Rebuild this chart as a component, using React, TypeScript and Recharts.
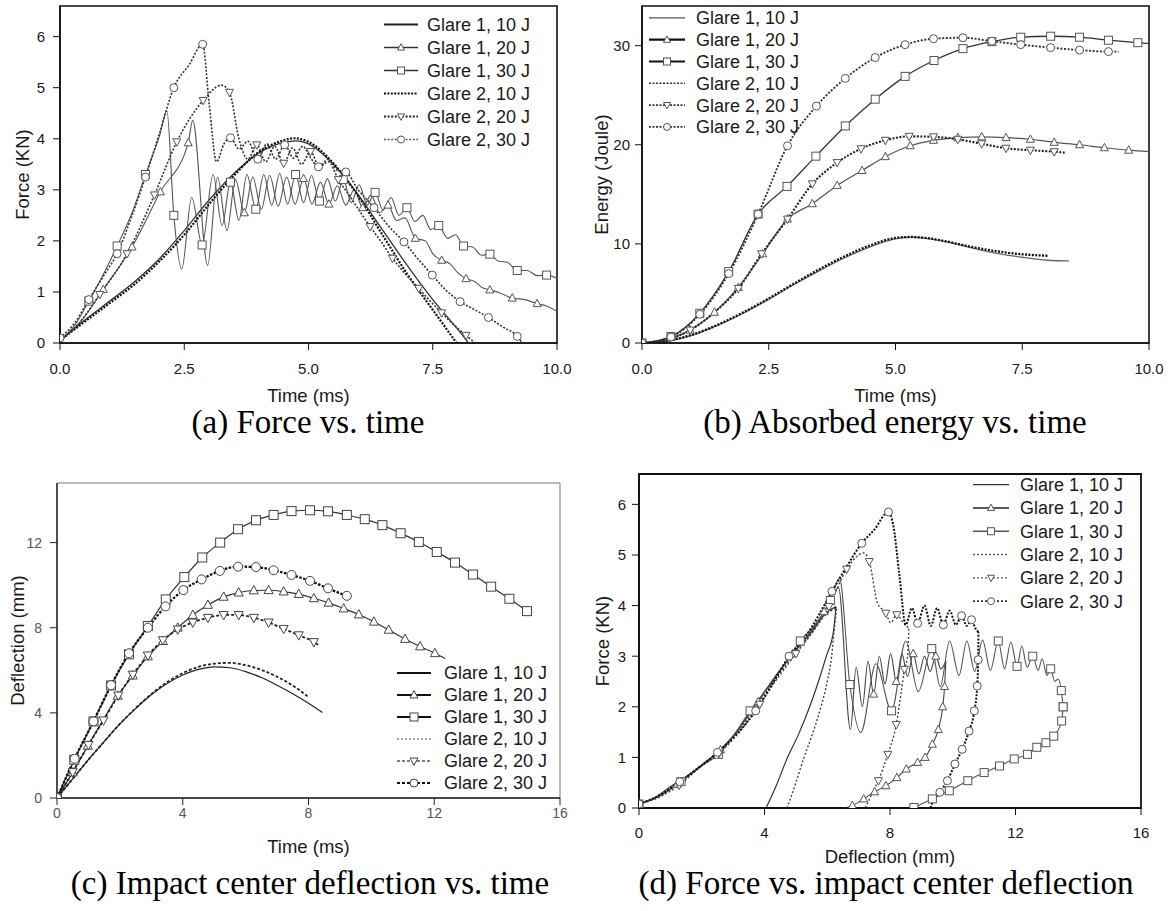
import React from "react";
import { LineChart, Line, XAxis, YAxis, ReferenceArea, Legend } from "recharts";

type Pt = number[]; // [x, y, marker?]
type Marker = "none" | "up" | "down" | "square" | "circle";

const FONT = "'Liberation Sans', Arial, sans-serif";
const SERIF = "'Liberation Serif', 'Times New Roman', serif";

const SERIES_NAMES = ["Glare 1, 10 J", "Glare 1, 20 J", "Glare 1, 30 J", "Glare 2, 10 J", "Glare 2, 20 J", "Glare 2, 30 J"];
const SERIES_MARKERS: Marker[] = ["none", "up", "square", "none", "down", "circle"];

const TIME_TICKS_AB = [0, 2.5, 5, 7.5, 10];
const FORCE_TICKS = [0, 1, 2, 3, 4, 5, 6];
const ENERGY_TICKS = [0, 10, 20, 30];
const TIME_TICKS_C = [0, 4, 8, 12, 16];
const DEFL_TICKS_Y = [0, 4, 8, 12];
const DEFL_TICKS_X = [0, 4, 8, 12, 16];

// (a) force (kN) vs time (ms)
const A_G1_10: Pt[] = [[0, 0.05], [0.5, 0.45], [1, 0.82], [1.5, 1.2], [2, 1.65], [2.5, 2.2], [3, 2.8], [3.5, 3.32], [4, 3.72], [4.5, 3.93], [4.75, 3.96], [5, 3.9], [5.5, 3.5], [6, 2.9], [6.5, 2.2], [7, 1.5], [7.5, 0.85], [8, 0.27], [8.22, 0]];
const A_G1_20: Pt[] = [[0, 0.05], [0.4, 0.4], [0.87, 1.05, 1], [1.45, 1.88, 1], [2.02, 2.96, 1], [2.58, 3.92, 1], [2.67, 4.36], [2.97, 1.52], [3.17, 3.25], [3.36, 2.2], [3.53, 3.2], [3.71, 2.55, 1], [3.88, 3.25], [4.05, 2.62], [4.22, 3.28], [4.39, 2.68], [4.56, 3.25], [4.73, 2.72], [4.9, 3.22, 1], [5.07, 2.72], [5.24, 3.15], [5.41, 2.72, 1], [5.58, 3.08], [5.75, 2.7], [5.92, 3.0], [6.09, 2.65, 1], [6.26, 2.9], [6.43, 2.55], [6.6, 2.7, 1], [6.77, 2.4], [6.94, 2.45], [7.15, 2.05, 1], [7.35, 2.0], [7.5, 1.75], [7.68, 1.62, 1], [7.85, 1.55], [8.0, 1.38], [8.17, 1.26, 1], [8.35, 1.2], [8.5, 1.08], [8.65, 1.04, 1], [8.85, 0.98], [9.1, 0.88, 1], [9.35, 0.85], [9.6, 0.77, 1], [9.8, 0.72], [10, 0.62]];
const A_G1_30: Pt[] = [[0, 0.05], [0.3, 0.35], [0.58, 0.82, 1], [0.85, 1.3], [1.15, 1.9, 1], [1.45, 2.55], [1.72, 3.3, 1], [2.0, 4.05], [2.15, 4.55], [2.29, 2.5, 1], [2.45, 1.45], [2.65, 2.85], [2.86, 1.92, 1], [3.08, 3.3], [3.26, 2.3], [3.43, 3.15, 1], [3.6, 2.4], [3.76, 3.3], [3.94, 2.62, 1], [4.1, 3.3], [4.26, 2.7], [4.42, 3.32], [4.58, 2.72], [4.74, 3.3, 1], [4.9, 2.75], [5.06, 3.28], [5.22, 2.78, 1], [5.38, 3.22], [5.54, 2.78], [5.7, 3.2, 1], [5.86, 2.75], [6.02, 3.1], [6.18, 2.7], [6.34, 2.95, 1], [6.5, 2.6], [6.66, 2.85], [6.82, 2.5], [6.98, 2.65, 1], [7.14, 2.38], [7.3, 2.5], [7.46, 2.22], [7.62, 2.3, 1], [7.8, 2.05], [7.96, 2.12], [8.12, 1.9, 1], [8.3, 1.88], [8.48, 1.72], [8.65, 1.74, 1], [8.82, 1.6], [9.0, 1.58], [9.2, 1.42, 1], [9.4, 1.42], [9.6, 1.32], [9.79, 1.33, 1], [10, 1.27]];
const A_G2_10: Pt[] = [[0, 0.05], [0.5, 0.42], [1, 0.78], [1.5, 1.15], [2, 1.6], [2.5, 2.12], [3, 2.72], [3.5, 3.28], [4, 3.74], [4.5, 3.97], [4.7, 4.01], [5, 3.94], [5.5, 3.52], [6, 2.88], [6.5, 2.1], [7, 1.33], [7.5, 0.65], [7.98, 0]];
const A_G2_20: Pt[] = [[0, 0.05], [0.35, 0.35], [0.8, 0.95, 1], [1.35, 1.75, 1], [1.9, 2.9, 1], [2.35, 3.94, 1], [2.88, 4.75, 1], [3.25, 5.05], [3.41, 4.91, 1], [3.6, 4.0], [3.78, 3.6], [3.96, 3.88, 1], [4.14, 3.55], [4.32, 3.85], [4.5, 3.52, 1], [4.68, 3.82], [4.86, 3.5], [5.04, 3.75, 1], [5.22, 3.45], [5.4, 3.55], [5.6, 3.2, 1], [5.85, 2.85], [6.05, 2.55], [6.24, 2.28, 1], [6.45, 2.0], [6.69, 1.66, 1], [6.95, 1.35], [7.22, 1.07, 1], [7.45, 0.82], [7.68, 0.59, 1], [7.92, 0.36], [8.17, 0.15, 1], [8.35, 0]];
const A_G2_30: Pt[] = [[0, 0.1, 1], [0.3, 0.4], [0.58, 0.85, 1], [0.9, 1.35], [1.15, 1.75, 1], [1.45, 2.5], [1.72, 3.25, 1], [2.0, 4.1], [2.29, 5.0, 1], [2.6, 5.45], [2.87, 5.85, 1], [3.0, 4.7], [3.15, 3.55], [3.3, 3.9], [3.43, 4.02, 1], [3.6, 3.8], [3.78, 3.95], [3.98, 3.6, 1], [4.16, 3.9], [4.34, 3.6], [4.52, 3.88, 1], [4.7, 3.62], [4.88, 3.85], [5.06, 3.6], [5.2, 3.45, 1], [5.4, 3.6], [5.58, 3.38], [5.75, 3.35, 1], [6.0, 3.0], [6.32, 2.65, 1], [6.6, 2.3], [6.92, 1.98, 1], [7.2, 1.65], [7.49, 1.33, 1], [7.75, 1.05], [8.05, 0.81, 1], [8.35, 0.65], [8.62, 0.5, 1], [8.9, 0.32], [9.2, 0.13, 1], [9.3, 0]];

// (b) absorbed energy (J) vs time (ms)
const B_G1_10: Pt[] = [[0, 0], [0.5, 0.2], [1, 0.8], [1.5, 1.8], [2, 3.0], [2.5, 4.4], [3, 5.9], [3.5, 7.3], [4, 8.6], [4.5, 9.7], [5, 10.5], [5.3, 10.65], [5.6, 10.55], [6, 10.2], [6.5, 9.6], [7, 9.05], [7.5, 8.65], [8, 8.35], [8.42, 8.28]];
const B_G1_20: Pt[] = [[0, 0, 1], [0.5, 0.35], [0.95, 1.3, 1], [1.43, 3.1, 1], [1.9, 5.6, 1], [2.38, 9.0, 1], [2.87, 12.5, 1], [3.36, 14.05, 1], [3.85, 15.9, 1], [4.34, 17.4, 1], [4.8, 18.8, 1], [5.29, 19.9, 1], [5.75, 20.45, 1], [6.23, 20.7, 1], [6.7, 20.8, 1], [7.18, 20.72, 1], [7.66, 20.55, 1], [8.13, 20.25, 1], [8.63, 20.0, 1], [9.12, 19.7, 1], [9.6, 19.45, 1], [10, 19.3]];
const B_G1_30: Pt[] = [[0, 0, 1], [0.57, 0.65, 1], [1.14, 3.0, 1], [1.71, 7.2, 1], [2.29, 13.0, 1], [2.86, 15.8, 1], [3.43, 18.85, 1], [4.01, 21.9, 1], [4.6, 24.6, 1], [5.19, 26.9, 1], [5.76, 28.5, 1], [6.33, 29.7, 1], [6.9, 30.4, 1], [7.47, 30.85, 1], [8.06, 30.95, 1], [8.63, 30.85, 1], [9.2, 30.55, 1], [9.78, 30.3, 1], [10, 30.2]];
const B_G2_10: Pt[] = [[0, 0], [0.5, 0.22], [1, 0.85], [1.5, 1.85], [2, 3.1], [2.5, 4.5], [3, 6.0], [3.5, 7.45], [4, 8.75], [4.5, 9.85], [5, 10.6], [5.3, 10.7], [5.6, 10.6], [6, 10.25], [6.5, 9.7], [7, 9.25], [7.5, 8.95], [8.02, 8.8]];
const B_G2_20: Pt[] = [[0, 0], [0.5, 0.35], [0.95, 1.3, 1], [1.43, 3.1], [1.9, 5.5, 1], [2.36, 9.0, 1], [2.87, 12.5, 1], [3.36, 16.05, 1], [3.85, 18.2, 1], [4.32, 19.6, 1], [4.8, 20.45, 1], [5.27, 20.85, 1], [5.75, 20.8, 1], [6.23, 20.55, 1], [6.7, 20.1, 1], [7.18, 19.65, 1], [7.66, 19.45, 1], [8.13, 19.3, 1], [8.35, 19.2]];
const B_G2_30: Pt[] = [[0, 0, 1], [0.57, 0.6, 1], [1.14, 2.9, 1], [1.71, 7.0, 1], [2.29, 13.0, 1], [2.87, 19.9, 1], [3.44, 23.9, 1], [4.01, 26.7, 1], [4.6, 28.8, 1], [5.19, 30.1, 1], [5.75, 30.7, 1], [6.33, 30.8, 1], [6.9, 30.45, 1], [7.47, 30.1, 1], [8.06, 29.8, 1], [8.63, 29.55, 1], [9.2, 29.4, 1], [9.4, 29.4]];

// (c) impact centre deflection (mm) vs time (ms)
const C_G1_10: Pt[] = [[0, 0], [0.5, 0.9], [1, 1.8], [1.5, 2.65], [2, 3.48], [2.5, 4.2], [3, 4.85], [3.5, 5.38], [4, 5.78], [4.5, 6.04], [5, 6.16], [5.5, 6.12], [6, 5.94], [6.5, 5.66], [7, 5.3], [7.5, 4.9], [8, 4.45], [8.44, 4.02]];
const C_G1_20: Pt[] = [[0, 0, 1], [0.5, 1.2, 1], [0.98, 2.45, 1], [1.45, 3.62], [1.93, 4.8, 1], [2.41, 5.75, 1], [2.89, 6.65, 1], [3.37, 7.37, 1], [3.84, 8.0, 1], [4.32, 8.6, 1], [4.8, 9.07, 1], [5.3, 9.45, 1], [5.78, 9.65, 1], [6.26, 9.75, 1], [6.73, 9.76, 1], [7.21, 9.7, 1], [7.69, 9.58, 1], [8.17, 9.38, 1], [8.64, 9.17, 1], [9.12, 8.9, 1], [9.6, 8.62, 1], [10.08, 8.28, 1], [10.55, 7.9, 1], [11.07, 7.47, 1], [11.55, 7.12, 1], [12.02, 6.8, 1], [12.35, 6.55]];
const C_G1_30: Pt[] = [[0, 0, 1], [0.55, 1.8, 1], [1.16, 3.6, 1], [1.72, 5.29, 1], [2.29, 6.75, 1], [2.89, 8.08, 1], [3.46, 9.33, 1], [4.05, 10.38, 1], [4.62, 11.3, 1], [5.19, 12.0, 1], [5.76, 12.63, 1], [6.33, 13.05, 1], [6.89, 13.3, 1], [7.46, 13.48, 1], [8.05, 13.52, 1], [8.62, 13.47, 1], [9.22, 13.3, 1], [9.79, 13.1, 1], [10.35, 12.82, 1], [10.93, 12.44, 1], [11.51, 12.03, 1], [12.08, 11.56, 1], [12.66, 11.06, 1], [13.23, 10.5, 1], [13.81, 9.93, 1], [14.39, 9.36, 1], [14.95, 8.78, 1]];
const C_G2_10: Pt[] = [[0, 0], [0.5, 0.9], [1, 1.8], [1.5, 2.65], [2, 3.48], [2.5, 4.22], [3, 4.88], [3.5, 5.44], [4, 5.87], [4.5, 6.16], [5, 6.31], [5.5, 6.35], [6, 6.24], [6.5, 6.02], [7, 5.7], [7.5, 5.28], [8.02, 4.72]];
const C_G2_20: Pt[] = [[0, 0, 1], [0.5, 1.22, 1], [1.0, 2.5, 1], [1.48, 3.65, 1], [1.95, 4.82, 1], [2.41, 5.8, 1], [2.89, 6.7, 1], [3.37, 7.42, 1], [3.84, 7.92, 1], [4.32, 8.25, 1], [4.8, 8.47, 1], [5.3, 8.6, 1], [5.78, 8.6, 1], [6.26, 8.47, 1], [6.73, 8.25, 1], [7.21, 7.95, 1], [7.69, 7.65, 1], [8.17, 7.33, 1], [8.36, 7.14]];
const C_G2_30: Pt[] = [[0, 0, 1], [0.56, 1.84, 1], [1.16, 3.6, 1], [1.72, 5.3, 1], [2.29, 6.8, 1], [2.89, 8.0, 1], [3.45, 9.0, 1], [4.02, 9.77, 1], [4.6, 10.27, 1], [5.18, 10.67, 1], [5.76, 10.87, 1], [6.33, 10.85, 1], [6.89, 10.7, 1], [7.46, 10.48, 1], [8.05, 10.2, 1], [8.62, 9.85, 1], [9.22, 9.5, 1], [9.34, 9.44]];

// (d) force (kN) vs impact centre deflection (mm)
const D_G1_10: Pt[] = [[0, 0.08], [0.5, 0.2], [1, 0.42], [1.5, 0.62], [2, 0.85], [2.5, 1.1], [3, 1.42], [3.5, 1.85], [4, 2.3], [4.5, 2.72], [5, 3.12], [5.5, 3.48], [5.95, 3.85], [6.28, 3.98], [6.2, 3.5], [5.97, 3.0], [5.72, 2.5], [5.44, 2.0], [5.08, 1.45], [4.7, 0.95], [4.38, 0.45], [4.05, 0]];
const D_G1_20: Pt[] = [[0, 0.08, 1], [0.6, 0.22], [1.22, 0.47, 1], [1.9, 0.8], [2.6, 1.15, 1], [3.2, 1.58], [3.8, 2.1, 1], [4.4, 2.65], [4.9, 3.05, 1], [5.4, 3.42], [5.9, 3.88, 1], [6.36, 4.35], [6.74, 1.55], [6.92, 2.78], [7.12, 2.0], [7.3, 2.9], [7.48, 2.25, 1], [7.66, 3.0], [7.84, 2.45], [8.02, 3.05], [8.2, 2.5, 1], [8.38, 3.05], [8.56, 2.6], [8.74, 3.05, 1], [8.92, 2.65], [9.1, 3.0], [9.28, 2.7], [9.46, 3.0, 1], [9.62, 2.75], [9.78, 2.9], [9.74, 2.4, 1], [9.68, 2.0, 1], [9.54, 1.55, 1], [9.35, 1.26, 1], [9.12, 1.0, 1], [8.88, 0.9, 1], [8.52, 0.77, 1], [8.22, 0.6, 1], [7.87, 0.44, 1], [7.51, 0.32, 1], [7.16, 0.18, 1], [6.8, 0.05, 1], [6.56, 0]];
const D_G1_30: Pt[] = [[0, 0.08, 1], [0.7, 0.25], [1.34, 0.52, 1], [1.9, 0.8], [2.53, 1.06, 1], [3.0, 1.42], [3.54, 1.92, 1], [4.2, 2.45], [4.6, 2.8], [5.14, 3.3, 1], [5.6, 3.62], [6.1, 4.1, 1], [6.39, 4.54], [6.72, 2.44, 1], [7.07, 1.49], [7.55, 2.85], [8.05, 1.92, 1], [8.5, 3.3], [8.9, 2.3], [9.33, 3.15, 1], [9.6, 2.4], [9.9, 3.3], [10.2, 2.62], [10.45, 3.3], [10.7, 2.7], [10.95, 3.32], [11.2, 2.72], [11.45, 3.3, 1], [11.65, 2.75], [11.85, 3.28], [12.05, 2.8, 1], [12.2, 3.2], [12.37, 2.78], [12.55, 3.0, 1], [12.72, 2.72], [12.85, 2.95], [13.0, 2.62], [13.12, 2.75, 1], [13.25, 2.5], [13.36, 2.55], [13.46, 2.32, 1], [13.52, 2.0, 1], [13.47, 1.72, 1], [13.32, 1.5], [13.22, 1.42, 1], [12.97, 1.29, 1], [12.68, 1.2, 1], [12.38, 1.06, 1], [11.96, 0.97, 1], [11.49, 0.83, 1], [11.0, 0.7, 1], [10.48, 0.54, 1], [9.89, 0.34, 1], [9.35, 0.18, 1], [8.76, 0.01, 1]];
const D_G2_10: Pt[] = [[0, 0.08], [0.5, 0.2], [1, 0.4], [1.5, 0.6], [2, 0.83], [2.5, 1.08], [3, 1.4], [3.5, 1.8], [4, 2.25], [4.5, 2.68], [5, 3.08], [5.5, 3.45], [5.95, 3.82], [6.3, 3.95], [6.22, 3.5], [6.14, 3.0], [6.0, 2.5], [5.8, 2.0], [5.55, 1.5], [5.26, 1.0], [5.0, 0.5], [4.72, 0]];
const D_G2_20: Pt[] = [[0, 0.08], [0.6, 0.2], [1.28, 0.45, 1], [1.9, 0.78], [2.55, 1.08, 1], [3.2, 1.5], [3.85, 2.05, 1], [4.4, 2.55], [5.0, 3.05, 1], [5.5, 3.45], [6.05, 3.98, 1], [6.62, 4.72, 1], [7.16, 5.04], [7.34, 4.87, 1], [7.6, 4.05], [7.87, 3.85, 1], [8.02, 3.66], [8.22, 3.82, 1], [8.4, 3.68], [8.6, 3.55], [8.56, 3.0], [8.46, 2.74, 1], [8.36, 2.3], [8.2, 1.65, 1], [7.93, 1.06, 1], [7.63, 0.54, 1], [7.4, 0.25], [7.22, 0]];
const D_G2_30: Pt[] = [[0, 0.08, 1], [0.65, 0.25], [1.3, 0.52, 1], [1.95, 0.82], [2.5, 1.1, 1], [3.1, 1.45], [3.72, 1.92, 1], [4.3, 2.5], [4.78, 3.0, 1], [5.3, 3.38], [5.7, 3.78], [6.15, 4.28, 1], [6.6, 4.75], [7.1, 5.23, 1], [7.5, 5.5], [7.95, 5.85, 1], [8.1, 5.6], [8.3, 4.6], [8.5, 3.62], [8.7, 3.95], [8.88, 3.65, 1], [9.1, 4.0], [9.3, 3.6], [9.5, 3.95], [9.7, 3.62, 1], [9.9, 3.9], [10.1, 3.62], [10.28, 3.8, 1], [10.45, 3.6], [10.6, 3.72, 1], [10.72, 3.55], [10.82, 3.48], [10.81, 2.93, 1], [10.78, 2.41, 1], [10.69, 1.92, 1], [10.52, 1.52, 1], [10.3, 1.16, 1], [10.07, 0.87, 1], [9.83, 0.54, 1], [9.59, 0.31, 1], [9.35, 0.11], [9.29, 0]];

interface Style { stroke: string; width: number; dash?: string }

interface PanelDef {
  left: number; top: number; width: number; height: number;
  margin: { top: number; right: number; bottom: number; left: number };
  yAxisWidth: number; xAxisHeight: number;
  xDomain: [number, number]; xTicks: number[]; xFmt: (v: number) => string;
  yDomain: [number, number]; yTicks: number[];
  xTitle: string; yTitle: string; xTitleOffset: number; yTitleOffset: number;
  xTickMargin: number; yTickMargin: number;
  tickColor: string; tickFont: number; axis: string; axisW: number;
  frame: string; frameW: number;
  data: Pt[][]; lines: Style[]; legend: Style[]; markSize: number; markStroke: string;
  legendLeft: number; legendTop: number; legendRow: number; legendLine: number; legendGap: number;
  caption: string; captionX: number; captionTop: number;
}

function splitRuns(pts: Pt[]): Pt[][] {
  const runs: Pt[][] = [];
  let cur: Pt[] = [pts[0]];
  let dir = 0;
  for (let i = 1; i < pts.length; i++) {
    const d = Math.sign(pts[i][0] - pts[i - 1][0]);
    if (dir !== 0 && d !== dir) {
      runs.push(cur);
      cur = [pts[i - 1]];
    }
    dir = d;
    cur.push(pts[i]);
  }
  runs.push(cur);
  // keep every run increasing in x so the monotone curve behaves
  return runs.map((r) => (r.length > 1 && r[r.length - 1][0] < r[0][0] ? [...r].reverse() : r));
}

function Glyph({ kind, cx, cy, s, stroke }: { kind: Marker; cx: number; cy: number; s: number; stroke: string }) {
  const h = s / 2;
  const st = { fill: "#fff", stroke, strokeWidth: 1 };
  if (kind === "square") return <rect x={cx - h} y={cy - h} width={s} height={s} {...st} />;
  if (kind === "circle") return <circle cx={cx} cy={cy} r={h} {...st} />;
  if (kind === "up") return <polygon points={`${cx},${cy - h * 1.1} ${cx - h},${cy + h * 0.75} ${cx + h},${cy + h * 0.75}`} {...st} />;
  if (kind === "down") return <polygon points={`${cx},${cy + h * 1.1} ${cx - h},${cy - h * 0.75} ${cx + h},${cy - h * 0.75}`} {...st} />;
  return null;
}

const makeDot = (kind: Marker, s: number, stroke: string) => (props: any) => {
  const { cx, cy, payload, index } = props;
  if (kind === "none" || !payload || !payload.m || cx == null || cy == null) return <g key={`n${index}`} />;
  return (
    <g key={`m${index}`}>
      <Glyph kind={kind} cx={cx} cy={cy} s={s} stroke={stroke} />
    </g>
  );
};

function LegendBox({ def }: { def: PanelDef }) {
  const w = def.legendLine + def.legendGap + 130;
  const rh = def.legendRow;
  return (
    <svg width={w} height={rh * 6} style={{ overflow: "visible", display: "block" }}>
      {def.legend.map((st, i) => {
        const y = rh * i + rh / 2;
        return (
          <g key={i}>
            <line x1={0} x2={def.legendLine} y1={y} y2={y} stroke={st.stroke} strokeWidth={st.width} strokeDasharray={st.dash} />
            <Glyph kind={SERIES_MARKERS[i]} cx={def.legendLine / 2} cy={y} s={def.markSize - 1} stroke={def.markStroke} />
            <text x={def.legendLine + def.legendGap} y={y} dy="0.36em" fontSize={18} fontFamily={FONT} fill="#1a1a1a">
              {SERIES_NAMES[i]}
            </text>
          </g>
        );
      })}
    </svg>
  );
}

function Panel({ def }: { def: PanelDef }) {
  const runs = def.data.flatMap((pts, si) =>
    splitRuns(pts).map((run, ri) => ({
      si,
      ri,
      data: run.map((p) => ({ x: p[0], y: p[1], m: p[2] ? 1 : 0 })),
    }))
  );
  const tick = { fill: def.tickColor, fontSize: def.tickFont, fontFamily: FONT };
  return (
    <div style={{ position: "absolute", left: def.left, top: def.top, width: def.width, height: def.height + 60 }}>
      <LineChart width={def.width} height={def.height} margin={def.margin}>
        <XAxis
          type="number"
          dataKey="x"
          domain={def.xDomain}
          ticks={def.xTicks}
          allowDataOverflow
          tickFormatter={def.xFmt}
          height={def.xAxisHeight}
          tickSize={7}
          tickMargin={def.xTickMargin}
          tick={tick}
          axisLine={{ stroke: def.axis, strokeWidth: def.axisW }}
          tickLine={{ stroke: def.axis, strokeWidth: 1 }}
          label={{ value: def.xTitle, position: "insideBottom", offset: def.xTitleOffset, style: { fill: "#1a1a1a", fontSize: 18.5, fontFamily: FONT } }}
        />
        <YAxis
          type="number"
          domain={def.yDomain}
          ticks={def.yTicks}
          allowDataOverflow
          width={def.yAxisWidth}
          tickSize={7}
          tickMargin={def.yTickMargin}
          tick={tick}
          axisLine={{ stroke: def.axis, strokeWidth: def.axisW }}
          tickLine={{ stroke: def.axis, strokeWidth: 1 }}
          label={{ value: def.yTitle, angle: -90, position: "insideLeft", offset: def.yTitleOffset, style: { textAnchor: "middle", fill: "#1a1a1a", fontSize: 18.5, fontFamily: FONT } }}
        />
        <ReferenceArea
          x1={def.xDomain[0]}
          x2={def.xDomain[1]}
          y1={def.yDomain[0]}
          y2={def.yDomain[1]}
          fill="none"
          fillOpacity={0}
          stroke={def.frame}
          strokeWidth={def.frameW}
          ifOverflow="visible"
        />
        {runs.map((r) => {
          const st = def.lines[r.si];
          return (
            <Line
              key={`${r.si}-${r.ri}`}
              data={r.data}
              dataKey="y"
              type="monotone"
              stroke={st.stroke}
              strokeWidth={st.width}
              strokeDasharray={st.dash}
              dot={makeDot(SERIES_MARKERS[r.si], def.markSize, def.markStroke)}
              activeDot={false}
              legendType="none"
              isAnimationActive={false}
            />
          );
        })}
        <Legend
          layout="vertical"
          align="center"
          verticalAlign="middle"
          wrapperStyle={{ left: def.legendLeft, top: def.legendTop, width: 200, height: def.legendRow * 6 }}
          content={() => <LegendBox def={def} />}
        />
      </LineChart>
      <div
        style={{
          position: "absolute",
          left: def.captionX - def.left - 300,
          top: def.captionTop - def.top,
          width: 600,
          textAlign: "center",
          fontFamily: SERIF,
          fontSize: 33,
          lineHeight: "24px",
          color: "#000",
          whiteSpace: "nowrap",
        }}
      >
        {def.caption}
      </div>
    </div>
  );
}

const fmt1 = (v: number) => v.toFixed(1);
const fmt0 = (v: number) => String(v);

const PANEL_A: PanelDef = {
  left: 0, top: 0, width: 580, height: 420,
  margin: { top: 6, right: 23, bottom: 13, left: 0 },
  yAxisWidth: 60, xAxisHeight: 64,
  xDomain: [0, 10], xTicks: TIME_TICKS_AB, xFmt: fmt1,
  yDomain: [0, 6.6], yTicks: FORCE_TICKS,
  xTitle: "Time (ms)", yTitle: "Force (KN)", xTitleOffset: 5, yTitleOffset: 22,
  xTickMargin: 13, yTickMargin: 8, tickColor: "#1a1a1a", tickFont: 15, axis: "#111", axisW: 1.5,
  frame: "#111", frameW: 1.6,
  data: [A_G1_10, A_G1_20, A_G1_30, A_G2_10, A_G2_20, A_G2_30],
  lines: [
    { stroke: "#333", width: 1.3 },
    { stroke: "#555", width: 1.1 },
    { stroke: "#555", width: 1.1 },
    { stroke: "#111", width: 2.2, dash: "2 1.4" },
    { stroke: "#333", width: 1.6, dash: "2 1.6" },
    { stroke: "#333", width: 1.6, dash: "2 1.6" },
  ],
  legend: [
    { stroke: "#222", width: 2 },
    { stroke: "#333", width: 1.6 },
    { stroke: "#333", width: 1.6 },
    { stroke: "#111", width: 2.2, dash: "2 1.4" },
    { stroke: "#222", width: 2, dash: "2 1.6" },
    { stroke: "#555", width: 1.4, dash: "2 1.6" },
  ],
  markSize: 8, markStroke: "#555",
  legendLeft: 384, legendTop: 12.5, legendRow: 23, legendLine: 34, legendGap: 9,
  caption: "(a) Force vs. time", captionX: 308, captionTop: 410,
};

const PANEL_B: PanelDef = {
  left: 585, top: 0, width: 589, height: 420,
  margin: { top: 6, right: 25, bottom: 13, left: 0 },
  yAxisWidth: 57, xAxisHeight: 64,
  xDomain: [0, 10], xTicks: TIME_TICKS_AB, xFmt: fmt1,
  yDomain: [0, 34], yTicks: ENERGY_TICKS,
  xTitle: "Time (ms)", yTitle: "Energy (Joule)", xTitleOffset: 5, yTitleOffset: 16,
  xTickMargin: 13, yTickMargin: 5, tickColor: "#1a1a1a", tickFont: 15, axis: "#111", axisW: 1.5,
  frame: "#111", frameW: 1.6,
  data: [B_G1_10, B_G1_20, B_G1_30, B_G2_10, B_G2_20, B_G2_30],
  lines: [
    { stroke: "#666", width: 1.3 },
    { stroke: "#555", width: 1.2 },
    { stroke: "#333", width: 1.3 },
    { stroke: "#111", width: 2.3, dash: "2 1.4" },
    { stroke: "#222", width: 2.1, dash: "2 1.5" },
    { stroke: "#333", width: 1.9, dash: "2 1.6" },
  ],
  legend: [
    { stroke: "#555", width: 1.3 },
    { stroke: "#111", width: 2.2 },
    { stroke: "#111", width: 2.2 },
    { stroke: "#333", width: 1.6, dash: "2 1.5" },
    { stroke: "#333", width: 1.8, dash: "2 1.5" },
    { stroke: "#333", width: 1.8, dash: "2 1.5" },
  ],
  markSize: 8, markStroke: "#555",
  legendLeft: 64, legendTop: 7, legendRow: 21.8, legendLine: 36, legendGap: 11,
  caption: "(b) Absorbed energy vs. time", captionX: 895, captionTop: 410,
};

const PANEL_C: PanelDef = {
  left: 0, top: 440, width: 580, height: 440,
  margin: { top: 43, right: 20, bottom: 22, left: 0 },
  yAxisWidth: 57, xAxisHeight: 60,
  xDomain: [0, 16], xTicks: TIME_TICKS_C, xFmt: fmt0,
  yDomain: [0, 14.8], yTicks: DEFL_TICKS_Y,
  xTitle: "Time (ms)", yTitle: "Deflection (mm)", xTitleOffset: 5, yTitleOffset: 17,
  xTickMargin: 3, yTickMargin: 8, tickColor: "#555", tickFont: 14, axis: "#222", axisW: 1.4,
  frame: "#777", frameW: 1,
  data: [C_G1_10, C_G1_20, C_G1_30, C_G2_10, C_G2_20, C_G2_30],
  lines: [
    { stroke: "#222", width: 1.2 },
    { stroke: "#333", width: 1.2 },
    { stroke: "#333", width: 1.2 },
    { stroke: "#222", width: 1.8, dash: "3 2" },
    { stroke: "#222", width: 1.8, dash: "3 2" },
    { stroke: "#111", width: 2.3, dash: "2.5 1.5" },
  ],
  legend: [
    { stroke: "#111", width: 2 },
    { stroke: "#111", width: 2 },
    { stroke: "#111", width: 2 },
    { stroke: "#888", width: 1.3, dash: "2 2" },
    { stroke: "#555", width: 1.4, dash: "3 2" },
    { stroke: "#111", width: 2.2, dash: "3 2" },
  ],
  markSize: 9, markStroke: "#444",
  legendLeft: 397, legendTop: 222, legendRow: 22, legendLine: 34, legendGap: 13,
  caption: "(c) Impact center deflection vs. time", captionX: 310, captionTop: 871,
};

const PANEL_D: PanelDef = {
  left: 585, top: 440, width: 589, height: 440,
  margin: { top: 34, right: 33, bottom: 12, left: 0 },
  yAxisWidth: 54, xAxisHeight: 60,
  xDomain: [0, 16], xTicks: DEFL_TICKS_X, xFmt: fmt0,
  yDomain: [0, 6.6], yTicks: FORCE_TICKS,
  xTitle: "Deflection (mm)", yTitle: "Force (KN)", xTitleOffset: 5, yTitleOffset: 17,
  xTickMargin: 12, yTickMargin: 6, tickColor: "#1a1a1a", tickFont: 15, axis: "#111", axisW: 1.6,
  frame: "#111", frameW: 1.8,
  data: [D_G1_10, D_G1_20, D_G1_30, D_G2_10, D_G2_20, D_G2_30],
  lines: [
    { stroke: "#333", width: 1.2 },
    { stroke: "#444", width: 1.1 },
    { stroke: "#555", width: 1.1 },
    { stroke: "#444", width: 1.4, dash: "2 2" },
    { stroke: "#444", width: 1.4, dash: "2 2" },
    { stroke: "#111", width: 2, dash: "2 1.5" },
  ],
  legend: [
    { stroke: "#333", width: 1.4 },
    { stroke: "#222", width: 1.6 },
    { stroke: "#555", width: 1.4 },
    { stroke: "#555", width: 1.4, dash: "2 2" },
    { stroke: "#555", width: 1.4, dash: "2 2" },
    { stroke: "#333", width: 1.6, dash: "2 2" },
  ],
  markSize: 8, markStroke: "#555",
  legendLeft: 388, legendTop: 33, legendRow: 23.3, legendLine: 36, legendGap: 11,
  caption: "(d) Force vs. impact center deflection", captionX: 886, captionTop: 871,
};

export default function App() {
  return (
    <div style={{ position: "absolute", left: 0, top: 0, width: 1174, height: 911, background: "#fff", overflow: "hidden" }}>
      <Panel def={PANEL_A} />
      <Panel def={PANEL_B} />
      <Panel def={PANEL_C} />
      <Panel def={PANEL_D} />
    </div>
  );
}
